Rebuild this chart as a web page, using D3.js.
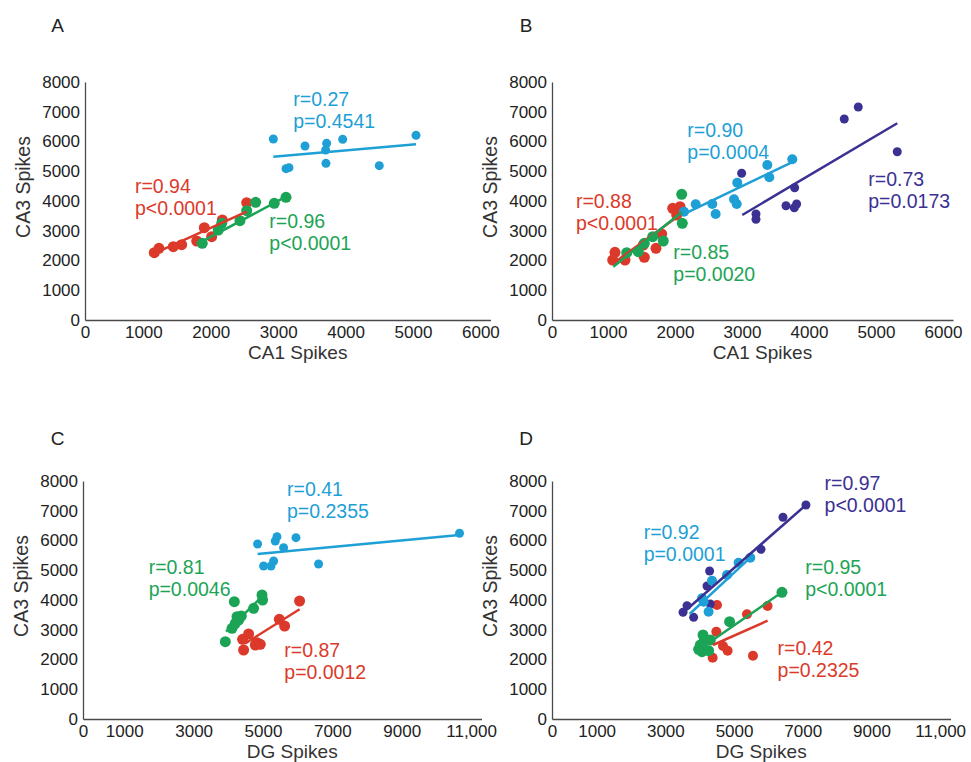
<!DOCTYPE html>
<html>
<head>
<meta charset="utf-8">
<script src="https://cdn.jsdelivr.net/npm/d3@7"></script>
<style>
  html, body { margin: 0; padding: 0; background: #fff; }
  svg { display: block; font-family: "Liberation Sans", Arial, sans-serif; }
</style>
</head>
<body>
<div id="chart"></div>
<script>
// --- data (x = spikes of the source region, y = CA3 spikes) ---
const yTicks = [0, 1000, 2000, 3000, 4000, 5000, 6000, 7000, 8000];
const ticksCA1 = [1000, 2000, 3000, 4000, 5000, 6000];
const ticksDG = [1000, 3000, 5000, 7000, 9000, 11000];

// Panel A: CA1 vs CA3
const aRed = [[1162, 2262], [1231, 2410], [1444, 2464], [1568, 2531], [1791, 2655], [1904, 3102], [2013, 2800], [2171, 3361], [2533, 3943]];
const aGreen = [[1874, 2578], [2111, 3025], [2162, 3250], [2433, 3338], [2533, 3674], [2666, 3956], [2942, 3923], [3116, 4124]];
const aBlue = [[2928, 6084], [3398, 5849], [3719, 5938], [3704, 5714], [3957, 6073], [5045, 6208], [3116, 5086], [3160, 5120], [3709, 5266], [4500, 5188]];
const aRedFit = [[1162, 2242], [2533, 3641]];
const aGreenFit = [[1840, 2599], [3116, 4145]];
const aBlueFit = [[2928, 5490], [5045, 5905]];

// Panel B: CA1 vs CA3
const bRed = [[1104, 2275], [1070, 2017], [1254, 2017], [1542, 2108], [1716, 2410], [1801, 2891], [1966, 3755], [2075, 3808], [2025, 3529], [1527, 2521]];
const bGreen = [[1279, 2262], [1452, 2296], [1542, 2578], [1667, 2801], [1825, 2655], [2100, 4224], [2109, 3250]];
const bBlue = [[2134, 3640], [2309, 3889], [2557, 3899], [2607, 3563], [2881, 4057], [2921, 3899], [2930, 4615], [3378, 5210], [3408, 4796], [3751, 5401]];
const bNavy = [[4527, 6756], [4736, 7160], [5318, 5657], [2995, 4931], [3786, 4447], [3657, 3842], [3781, 3775], [3816, 3899], [3209, 3563], [3209, 3385]];
const bRedFit = [[1079, 1906], [2109, 3586]];
const bGreenFit = [[1079, 1792], [2109, 3640]];
const bBlueFit = [[2100, 3529], [3766, 5321]];
const bNavyFit = [[3004, 3529], [5318, 6612]];

// Panel C: DG vs CA3
const cBlue = [[4844, 5882], [5017, 5143], [5231, 5143], [5306, 5311], [5354, 5983], [5403, 6128], [5594, 5759], [5951, 6095], [6602, 5210], [10666, 6242]];
const cGreen = [[3914, 2598], [4173, 3943], [4107, 3049], [4202, 3216], [4251, 3440], [4375, 3462], [4297, 3328], [4729, 3720], [4971, 4168], [4988, 4000]];
const cRed = [[4441, 2319], [4412, 2679], [4585, 2857], [4778, 2487], [4922, 2511], [4827, 2565], [5470, 3351], [5623, 3126], [6055, 3966]];
const cBlueFit = [[4844, 5546], [10666, 6185]];
const cGreenFit = [[3934, 2934], [4971, 4111]];
const cRedFit = [[4490, 2544], [6055, 3687]];

// Panel D: DG vs CA3
const dNavy = [[3514, 3587], [3630, 3809], [3823, 3418], [4212, 4471], [4288, 4975], [4308, 3866], [6423, 6780], [7092, 7193], [5783, 5704]];
const dBlue = [[4067, 4057], [4259, 3607], [4358, 4649], [4794, 4840], [5132, 5254], [5472, 5423], [4114, 3943]];
const dGreen = [[6394, 4259], [4870, 3271], [4096, 2824], [4308, 2655], [4017, 2487], [4067, 2263], [4259, 2297], [3968, 2342], [4125, 2599]];
const dRed = [[4503, 3832], [4483, 2935], [4376, 2061], [4678, 2454], [4812, 2297], [5376, 3519], [5975, 3798], [5550, 2128]];
const dNavyFit = [[3514, 3573], [7092, 7193]];
const dBlueFit = [[3706, 3529], [5472, 5423]];
const dGreenFit = [[4308, 2598], [6394, 4259]];
const dRedFit = [[4386, 2487], [5975, 3305]];

const COLORS = { red: '#db3a2b', green: '#1ca456', blue: '#1e9fd6', navy: '#3b3192' };

const seriesA = [
    { c: 'red', pts: aRed, fit: aRedFit, stats: ['r=0.94', 'p<0.0001'], at: [875, 4259], r: 5.5 },
    { c: 'green', pts: aGreen, fit: aGreenFit, stats: ['r=0.96', 'p<0.0001'], at: [2868, 3082], r: 5.5 },
    { c: 'blue', pts: aBlue, fit: aBlueFit, stats: ['r=0.27', 'p=0.4541'], at: [3224, 7193], r: 4.5 }
];
const seriesB = [
    { c: 'red', pts: bRed, fit: bRedFit, stats: ['r=0.88', 'p<0.0001'], at: [522, 3775], r: 5.5 },
    { c: 'green', pts: bGreen, fit: bGreenFit, stats: ['r=0.85', 'p=0.0020'], at: [1975, 2040], r: 5.5 },
    { c: 'blue', pts: bBlue, fit: bBlueFit, stats: ['r=0.90', 'p=0.0004'], at: [2184, 6161], r: 5 },
    { c: 'navy', pts: bNavy, fit: bNavyFit, stats: ['r=0.73', 'p=0.0173'], at: [4885, 4504], r: 4.5 }
];
const seriesC = [
    { c: 'blue', pts: cBlue, fit: cBlueFit, stats: ['r=0.41', 'p=0.2355'], at: [5692, 7496], r: 4.5 },
    { c: 'green', pts: cGreen, fit: cGreenFit, stats: ['r=0.81', 'p=0.0046'], at: [1703, 4874], r: 5.5 },
    { c: 'red', pts: cRed, fit: cRedFit, stats: ['r=0.87', 'p=0.0012'], at: [5614, 2094], r: 5.5 }
];
const seriesD = [
    { c: 'red', pts: dRed, fit: dRedFit, stats: ['r=0.42', 'p=0.2325'], at: [6266, 2151], r: 5 },
    { c: 'green', pts: dGreen, fit: dGreenFit, stats: ['r=0.95', 'p<0.0001'], at: [7072, 4864], r: 5.5 },
    { c: 'navy', pts: dNavy, fit: dNavyFit, stats: ['r=0.97', 'p<0.0001'], at: [7634, 7697], r: 4.5 },
    { c: 'blue', pts: dBlue, fit: dBlueFit, stats: ['r=0.92', 'p=0.0001'], at: [2368, 6050], r: 5 }
];

// layout of the four panels (pixel frames)
const panels = [
    { id: 'A', xDomain: [134, 6150], xRange: [85, 490.5], yRange: [320, 82], xTicks: ticksCA1, xTitle: 'CA1 Spikes', letter: [57.5, 32], series: seriesA },
    { id: 'B', xDomain: [164, 6150], xRange: [552, 953], yRange: [320, 82], xTicks: ticksCA1, xTitle: 'CA1 Spikes', letter: [526, 32], series: seriesB },
    { id: 'C', xDomain: [-190, 11300], xRange: [83, 481.5], yRange: [719, 481], xTicks: ticksDG, xTitle: 'DG Spikes', letter: [57.5, 445], series: seriesC },
    { id: 'D', xDomain: [-300, 11300], xRange: [552, 950.5], yRange: [719, 481], xTicks: ticksDG, xTitle: 'DG Spikes', letter: [526, 445], series: seriesD }
];

const svg = d3.select('#chart').append('svg')
    .attr('width', 971)
    .attr('height', 762);

// plain numbers below 10,000, grouped above (as in the figure: "1000" but "11,000")
const tickFmt = d => d >= 10000 ? d3.format(',')(d) : String(d);

function drawPanel(p) {
    const x = d3.scaleLinear().domain(p.xDomain).range(p.xRange);
    const y = d3.scaleLinear().domain([0, 8000]).range(p.yRange);
    const g = svg.append('g').attr('class', 'panel-' + p.id);

    // Axes (no tick marks, the first x label "0" sits at the origin)
    const xAxis = d3.axisBottom(x)
        .tickValues([p.xDomain[0], ...p.xTicks])
        .tickFormat((d, i) => i === 0 ? '0' : tickFmt(d))
        .tickSize(0).tickPadding(5.5);
    const xg = g.append('g').attr('transform', `translate(0,${p.yRange[0]})`).call(xAxis);

    const yAxis = d3.axisLeft(y).tickValues(yTicks).tickFormat(tickFmt).tickSize(0).tickPadding(5);
    const yg = g.append('g').attr('transform', `translate(${p.xRange[0]},0)`).call(yAxis);

    [xg, yg].forEach(a => {
        a.attr('font-size', 17).attr('font-family', null);
        a.select('.domain').attr('stroke', '#4a4a4a').attr('stroke-width', 1.3);
        a.selectAll('text').attr('fill', '#222');
    });

    // Axis titles
    g.append('text')
        .attr('x', (p.xRange[0] + p.xRange[1]) / 2 + 10)
        .attr('y', p.yRange[0] + 38.5)
        .attr('text-anchor', 'middle')
        .attr('font-size', 19)
        .attr('fill', '#333')
        .text(p.xTitle);

    g.append('text')
        .attr('transform', `translate(${p.xRange[0] - 55},${(p.yRange[0] + p.yRange[1]) / 2 - 14}) rotate(-90)`)
        .attr('text-anchor', 'middle')
        .attr('font-size', 19.5)
        .attr('fill', '#333')
        .text('CA3 Spikes');

    // Panel letter
    g.append('text')
        .attr('x', p.letter[0]).attr('y', p.letter[1])
        .attr('text-anchor', 'middle')
        .attr('font-size', 19)
        .attr('fill', '#222')
        .text(p.id);

    // Dots first, then the fitted lines on top
    p.series.forEach(s => {
        g.append('g').selectAll('circle').data(s.pts).enter().append('circle')
            .attr('cx', d => x(d[0]))
            .attr('cy', d => y(d[1]))
            .attr('r', s.r)
            .attr('fill', COLORS[s.c]);
    });

    const line = d3.line().x(d => x(d[0])).y(d => y(d[1]));
    p.series.forEach(s => {
        g.append('path')
            .attr('d', line(s.fit))
            .attr('fill', 'none')
            .attr('stroke', COLORS[s.c])
            .attr('stroke-width', 2.5);
    });

    // r / p annotations
    p.series.forEach(s => {
        const t = g.append('text')
            .attr('x', x(s.at[0]))
            .attr('y', y(s.at[1]))
            .attr('font-size', 19.5)
            .attr('fill', COLORS[s.c]);
        s.stats.forEach((txt, i) => {
            t.append('tspan')
                .attr('x', x(s.at[0]))
                .attr('dy', i === 0 ? 0 : 22)
                .text(txt);
        });
    });
}

panels.forEach(drawPanel);
</script>
</body>
</html>
